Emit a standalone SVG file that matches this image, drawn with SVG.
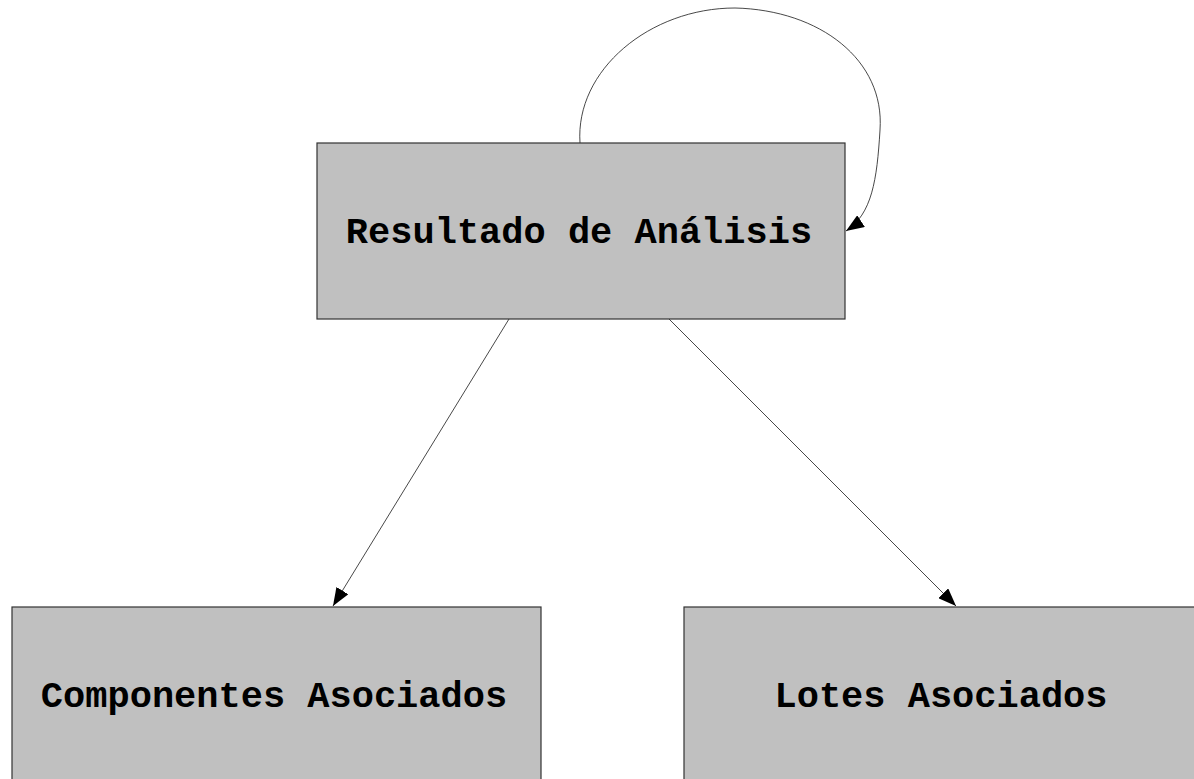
<svg xmlns="http://www.w3.org/2000/svg" width="1194" height="779" viewBox="0 0 1194 779">
<style>
.node rect{fill:#c0c0c0;stroke:#333;stroke-width:1.2}
.node text{font-family:"Liberation Mono","Courier New",monospace;font-weight:bold;font-size:37px;fill:#000;text-anchor:middle}
.edge{fill:none;stroke:#333;stroke-width:0.9;marker-end:url(#arr)}
</style>
<defs>
<marker id="arr" viewBox="0 0 18 14" refX="18" refY="7" markerWidth="18" markerHeight="14" markerUnits="userSpaceOnUse" orient="auto">
<path d="M0,0 L18,7 L0,14 Z" fill="#000"/>
</marker>
</defs>
<rect width="1194" height="779" fill="#fff"/>
<g id="connectors">
<path class="edge" d="M509,319 L333,606"/>
<path class="edge" d="M669,319 L956,606"/>
<path class="edge" d="M580,143 C575,70 650,8 735,8 C820,10 885,60 880,130 C877,180 872,214 846,231"/>
</g>
<g id="node-resultado" class="node">
<rect x="317" y="143" width="528" height="176"/>
<text x="579" y="243">Resultado de Análisis</text>
</g>
<g id="node-componentes" class="node">
<rect x="12" y="607" width="529" height="190"/>
<text x="274" y="707">Componentes Asociados</text>
</g>
<g id="node-lotes" class="node">
<rect x="684" y="607" width="529" height="190"/>
<text x="941" y="707">Lotes Asociados</text>
</g>
</svg>
